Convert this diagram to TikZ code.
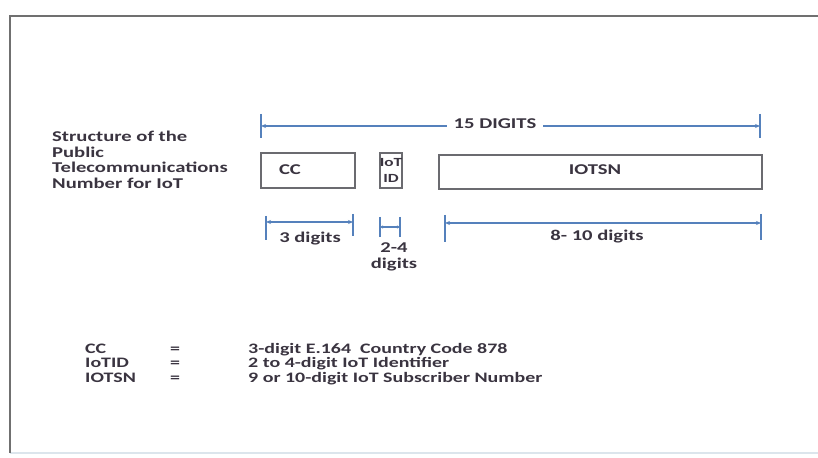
\documentclass[tikz,border=0pt]{standalone}
\usepackage{fontspec}
\setmainfont[FakeStretch=1.38]{Carlito}
\usetikzlibrary{arrows.meta}
\definecolor{dimblue}{HTML}{5581BC}
\definecolor{boxgray}{HTML}{6B6B70}
\definecolor{txt}{HTML}{3A3440}
\definecolor{framegray}{HTML}{707070}
\definecolor{framelight}{HTML}{DCE5EC}
\begin{document}
\begin{tikzpicture}[x=1bp,y=-1bp,
  box/.style={draw=boxgray, line width=1.6bp, inner sep=0pt},
  tickline/.style={draw=dimblue, line width=1.3bp},
  dimline/.style={draw=dimblue, line width=1.3bp, {Stealth[length=5bp,width=4bp]}-{Stealth[length=5bp,width=4bp]}},
  lbl/.style={font=\bfseries\fontsize{15}{15.5}\selectfont, text=txt, inner sep=0pt},
  leg/.style={font=\bfseries\fontsize{14.5}{14.5}\selectfont, text=txt, inner sep=0pt, anchor=base west},
]
\useasboundingbox (0,0) rectangle (818,458);
\fill[white] (0,0) rectangle (818,458);
% frame
\coordinate (ftl) at (10,16);
\coordinate (ftr) at (818,16);
\coordinate (fbl) at (10,453);
\coordinate (fbr) at (818,453);
\draw[framelight, line width=1.5bp] (fbl) -- (fbr);
\draw[framegray, line width=2bp] (ftr) -- (ftl) -- (fbl);

% title label
\node[lbl, align=left, anchor=north west] (title) at (52,131)
  {Structure of the\\Public\\Telecommunications\\Number for IoT};

% boxes
\node[box, minimum width=94bp, minimum height=35bp] (cc) at (308,170.5) {};
\node[lbl, anchor=base] (cctxt) at (290,175) {CC};
\node[box, minimum width=22bp, minimum height=35bp] (iotid) at (391,170.5) {};
\node[font=\bfseries\fontsize{12.5}{16}\selectfont, text=txt, inner sep=0pt, align=center] (iotidtxt) at (391,170) {IoT\\ID};
\node[box, minimum width=323bp, minimum height=34bp] (iotsn) at (600.5,172) {};
\node[lbl, anchor=base] (iotsntxt) at (595,175) {IOTSN};

% 15 digits
\coordinate (a1t) at (261,114); \coordinate (a1b) at (261,138);
\coordinate (a2t) at (760,114); \coordinate (a2b) at (760,138);
\coordinate (a1) at (261,126); \coordinate (a2) at (760,126);
\draw[tickline] (a1t) -- (a1b);
\draw[tickline] (a2t) -- (a2b);
\draw[dimline] (a1) -- (a2);
\node[lbl, fill=white, inner xsep=7bp, inner ysep=2bp] (fifteen) at (495,124) {15 DIGITS};

% 3 digits
\coordinate (b1t) at (266,216); \coordinate (b1b) at (266,240);
\coordinate (b2t) at (353,214); \coordinate (b2b) at (353,236);
\coordinate (b1) at (266,222); \coordinate (b2) at (353,222);
\draw[tickline] (b1t) -- (b1b);
\draw[tickline] (b2t) -- (b2b);
\draw[dimline] (b1) -- (b2);
\node[lbl, anchor=base] (three) at (310,243) {3 digits};

% 2-4 digits
\coordinate (c1t) at (380,217); \coordinate (c1b) at (380,237);
\coordinate (c2t) at (400,217); \coordinate (c2b) at (400,237);
\coordinate (c1) at (380,227); \coordinate (c2) at (400,227);
\draw[tickline] (c1t) -- (c1b);
\draw[tickline] (c2t) -- (c2b);
\draw[dimblue, line width=1.1bp, {Stealth[length=3bp,width=3bp]}-{Stealth[length=3bp,width=3bp]}] (c1) -- (c2);
\node[lbl, align=center, anchor=north] (twofour) at (394,243) {2-4\\digits};

% 8-10 digits
\coordinate (d1t) at (445,215); \coordinate (d1b) at (445,242);
\coordinate (d2t) at (761,214); \coordinate (d2b) at (761,240);
\coordinate (d1) at (445,223); \coordinate (d2) at (761,223);
\draw[tickline] (d1t) -- (d1b);
\draw[tickline] (d2t) -- (d2b);
\draw[dimline] (d1) -- (d2);
\node[lbl, anchor=base] (eightten) at (597,241) {8- 10 digits};

% legend
\node[leg] (l1a) at (85,354) {CC};
\node[leg] (l1b) at (170,354) {=};
\node[leg] (l1c) at (248,354) {3-digit E.164\ \ Country Code 878};
\node[leg] (l2a) at (85,368) {IoTID};
\node[leg] (l2b) at (170,368) {=};
\node[leg] (l2c) at (248,368) {2 to 4-digit IoT Identifier};
\node[leg] (l3a) at (85,383) {IOTSN};
\node[leg] (l3b) at (170,383) {=};
\node[leg] (l3c) at (248,383) {9 or 10-digit IoT Subscriber Number};
\end{tikzpicture}
\end{document}
